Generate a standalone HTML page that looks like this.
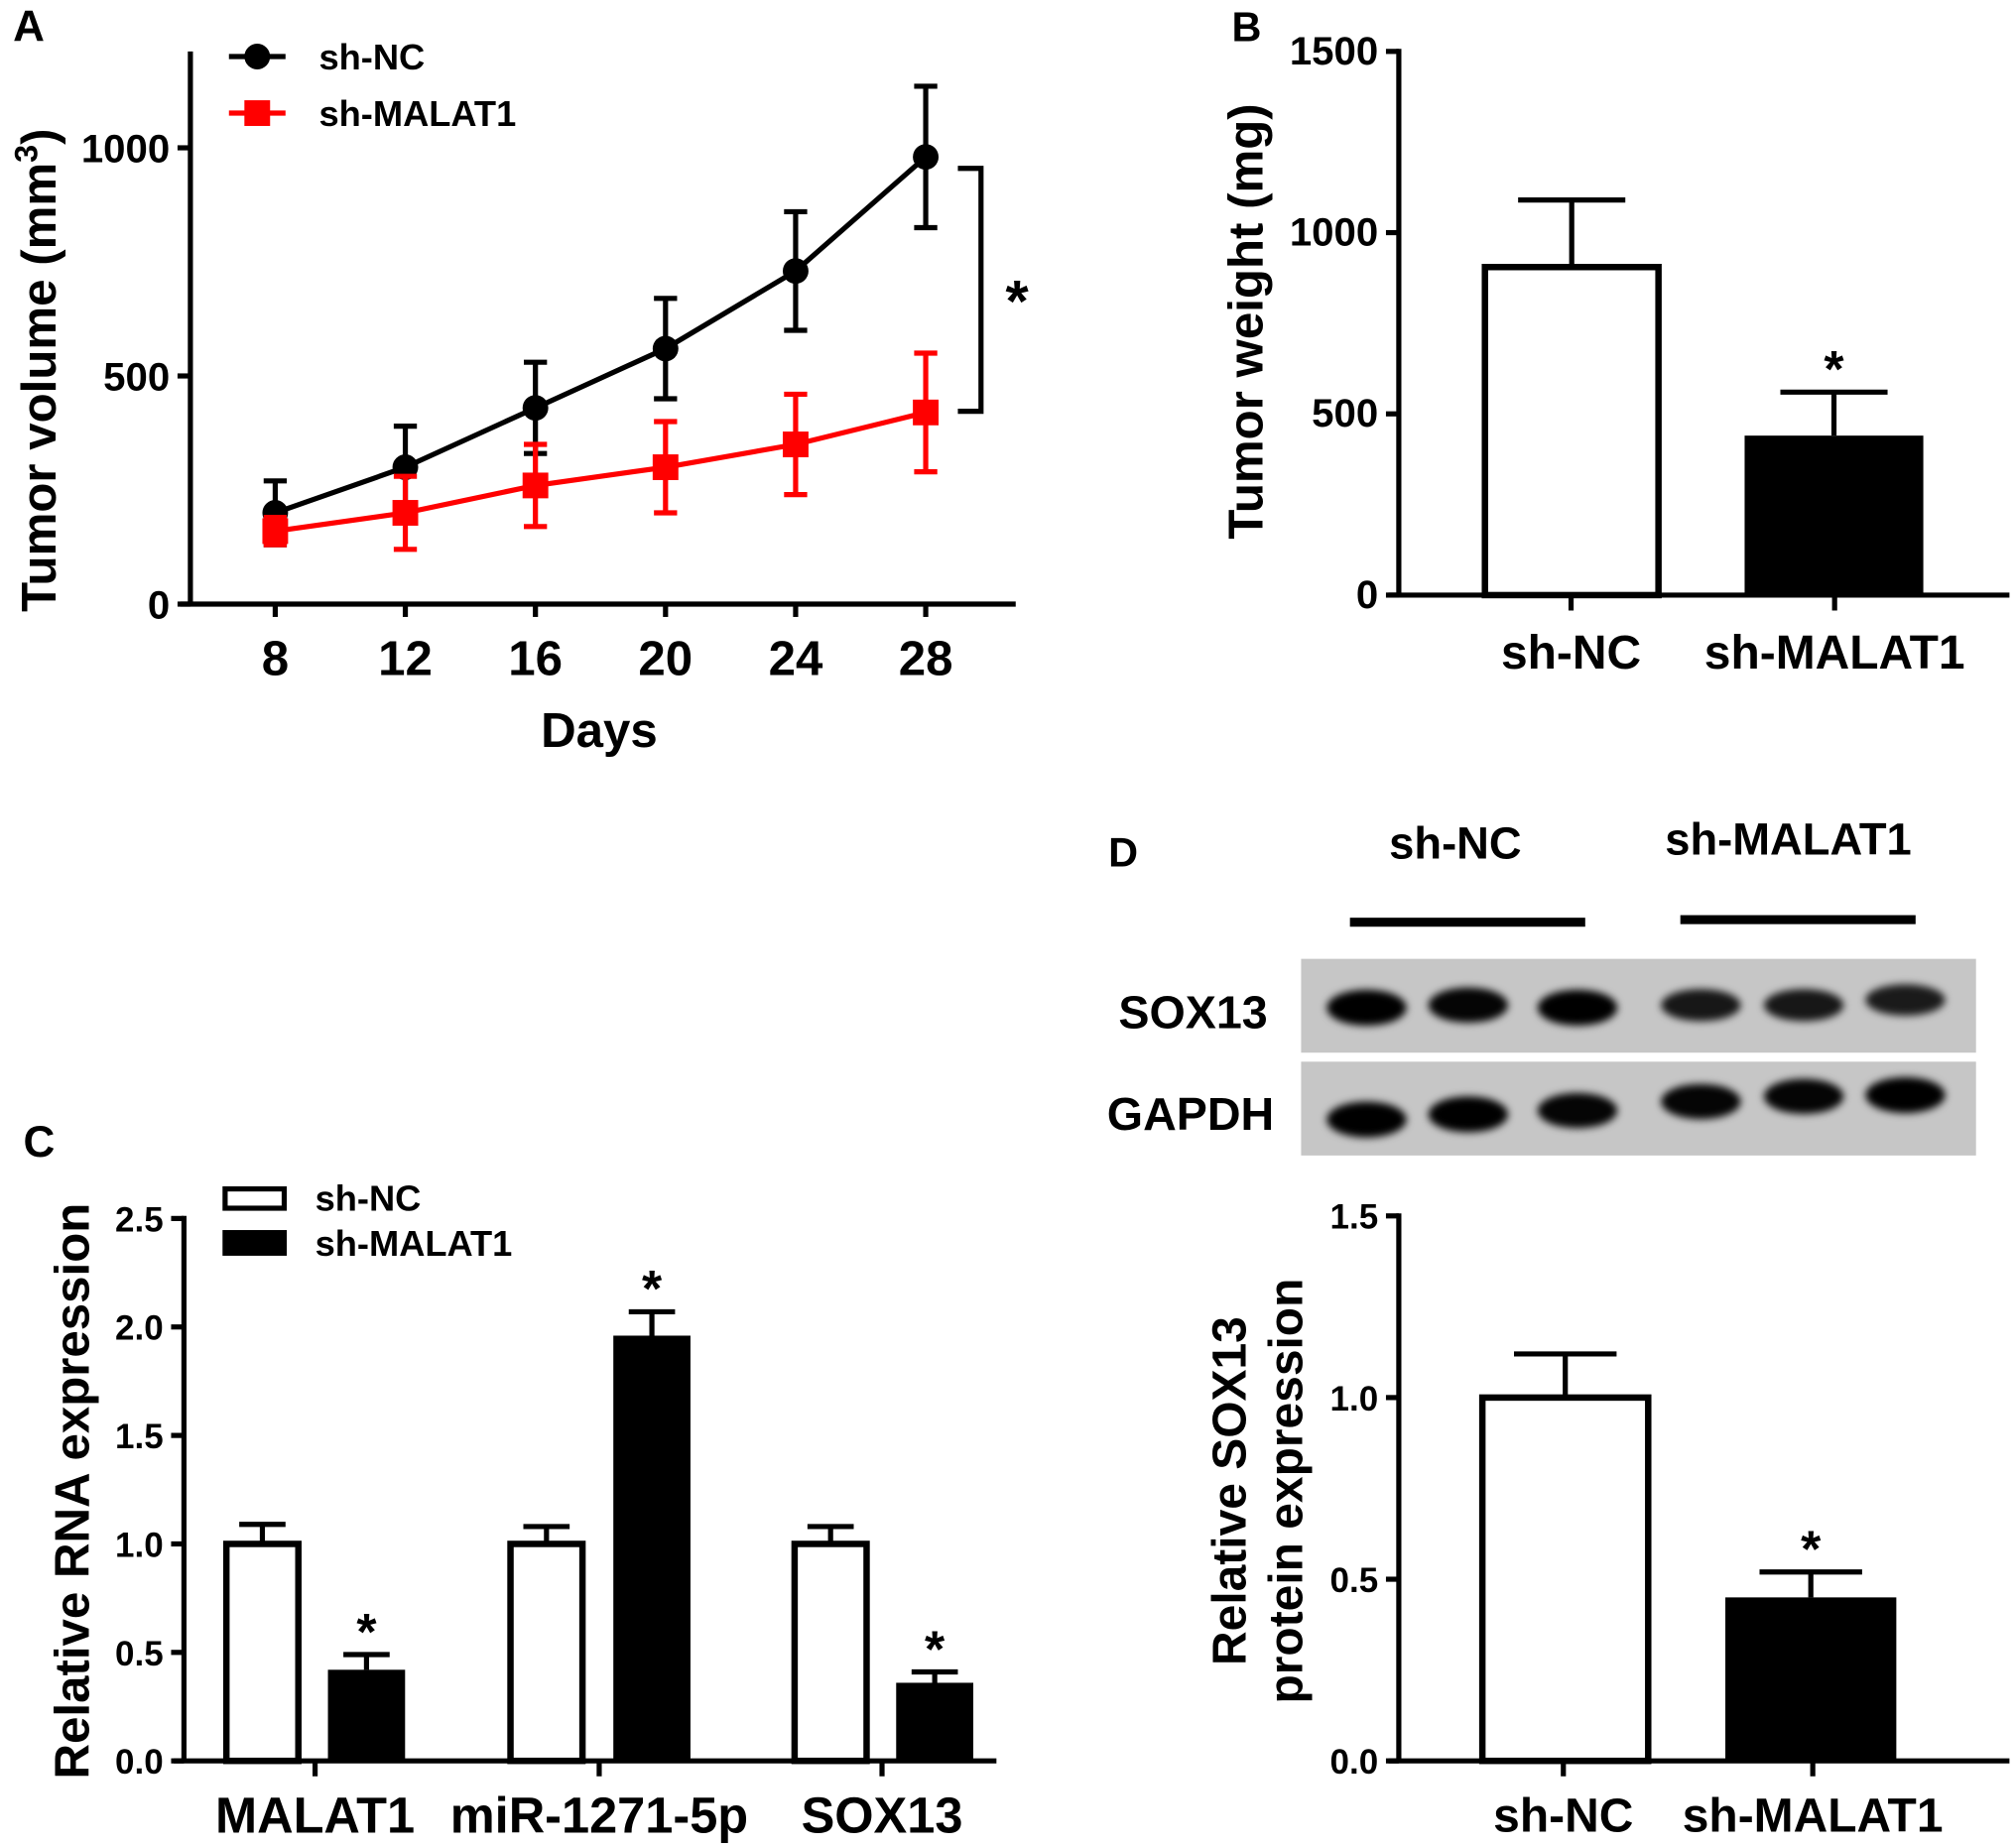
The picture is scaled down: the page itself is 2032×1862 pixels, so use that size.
<!DOCTYPE html>
<html><head><meta charset="utf-8"><style>
html,body{margin:0;padding:0;background:#fff;}
svg{display:block;}
text{font-family:"Liberation Sans",Arial,sans-serif;font-weight:bold;fill:#000;}
.n{font-family:"Liberation Sans Narrow","Liberation Sans",sans-serif;}
</style></head><body>
<svg id="fig" width="2032" height="1862" viewBox="0 0 1568 1437" xmlns="http://www.w3.org/2000/svg">
<g id="A"></g>
<g id="B"></g>
<g id="C"></g>
<g id="D"></g>
</svg>
<script>
// Panel A data
const daysA = [8,12,16,20,24,28];
const ncVol = [200,300,430,560,730,980];
const ncVolErr = [70,90,100,110,130,155];
const malVol = [160,200,260,300,350,420];
const malVolErr = [30,80,90,100,110,130];
const ticksA = [0,500,1000];
// Panel B data
const catsB = ["sh-NC","sh-MALAT1"];
const weightB = [905,440];
const weightErrB = [185,120];
const ticksB = [0,500,1000,1500];
// Panel C data
const catsC = ["MALAT1","miR-1271-5p","SOX13"];
const ncRNA = [1.0,1.0,1.0];
const ncRNAErr = [0.09,0.08,0.08];
const malRNA = [0.42,1.96,0.36];
const malRNAErr = [0.07,0.11,0.05];
const ticksC = ["0.0","0.5","1.0","1.5","2.0","2.5"];
// Panel D data
const catsD = ["sh-NC","sh-MALAT1"];
const protD = [1.0,0.45];
const protErrD = [0.12,0.07];
const ticksD = ["0.0","0.5","1.0","1.5"];
const sox13Band = [1,0.95,1,0.75,0.75,0.7];
const gapdhBand = [1,1,0.95,0.95,0.95,1];

const NS="http://www.w3.org/2000/svg";
function mk(parent,tag,attrs,txt){const e=document.createElementNS(NS,tag);for(const k in attrs)e.setAttribute(k,attrs[k]);if(txt!==undefined)e.textContent=txt;parent.appendChild(e);return e;}

// ---------- Panel A ----------
(function(){
const g=document.getElementById('A');
const X=d=>214+(d-8)*(720-214)/20;
const Y=v=>470-v*0.355;
let t=mk(g,'text',{x:10,y:32,'font-size':34},'A');

let ax=mk(g,'path',{d:`M148 40 V470 M140 470 H790`,stroke:'#000','stroke-width':4,fill:'none'});

ticksA.forEach(v=>{
 let l=mk(g,'line',{x1:138,x2:148,y1:Y(v),y2:Y(v),stroke:'#000','stroke-width':4});
 
 let tx=mk(g,'text',{x:132,y:Y(v)+11,'font-size':31,'text-anchor':'end',class:'n'},String(v));
 
});
daysA.forEach(d=>{
 let l=mk(g,'line',{x1:X(d),x2:X(d),y1:470,y2:480,stroke:'#000','stroke-width':4});
 
 let tx=mk(g,'text',{x:X(d),y:525,'font-size':38,'text-anchor':'middle',class:'n'},String(d));
 
});
t=mk(g,'text',{x:466,y:581,'font-size':38,'text-anchor':'middle'},'Days');

t=mk(g,'text',{transform:'translate(43,288) rotate(-90)','font-size':38,'text-anchor':'middle'});

t.innerHTML='Tumor volume (mm<tspan dy="-14" font-size="25">3</tspan><tspan dy="14">)</tspan>';
function series(vals,errs,color,shape,name){
 errs.forEach((e,i)=>{
  let p=mk(g,'path',{d:`M${X(daysA[i])} ${Y(vals[i]-e)} V${Y(vals[i]+e)} M${X(daysA[i])-9} ${Y(vals[i]+e)} h18 M${X(daysA[i])-9} ${Y(vals[i]-e)} h18`,stroke:color,'stroke-width':4,fill:'none'});
  
 });
 let pl=mk(g,'polyline',{points:vals.map((v,i)=>X(daysA[i])+','+Y(v)).join(' '),stroke:color,'stroke-width':4,fill:'none'});
 
 vals.forEach((v,i)=>{
  let m=shape==='c'?mk(g,'circle',{cx:X(daysA[i]),cy:Y(v),r:10,fill:color}):mk(g,'rect',{x:X(daysA[i])-10,y:Y(v)-10,width:20,height:20,fill:color});
  
 });
}
series(ncVol,ncVolErr,'#000','c','sh-nc');
series(malVol,malVolErr,'#f00','s','sh-malat1');
let br=mk(g,'path',{d:`M745 131 H763 V320 H745`,stroke:'#000','stroke-width':4,fill:'none'});

t=mk(g,'text',{x:791,y:250,'font-size':46,'text-anchor':'middle'},'*');

let le=mk(g,'g',{});
mk(le,'line',{x1:178,x2:222,y1:44,y2:44,stroke:'#000','stroke-width':4});mk(le,'circle',{cx:200,cy:44,r:10});
mk(le,'text',{x:248,y:54,'font-size':28,class:'n'},'sh-NC');
le=mk(g,'g',{});
mk(le,'line',{x1:178,x2:222,y1:88,y2:88,stroke:'#f00','stroke-width':4});mk(le,'rect',{x:190,y:78,width:20,height:20,fill:'#f00'});
mk(le,'text',{x:248,y:98,'font-size':28,class:'n'},'sh-MALAT1');
})();

function barChart(g,o){
 const Y=v=>o.y0-(v/o.ymax)*(o.y0-o.ytop);
 let ax=mk(g,'path',{d:`M${o.ax} ${o.ytop-2} V${o.y0} M${o.ax-8} ${o.y0} H${o.xend}`,stroke:'#000','stroke-width':4,fill:'none'});
 
 o.ticks.forEach(s=>{const v=parseFloat(s);
  let l=mk(g,'line',{x1:o.ax-10,x2:o.ax,y1:Y(v),y2:Y(v),stroke:'#000','stroke-width':4});
  
  let tx=mk(g,'text',{x:o.ax-16,y:Y(v)+10,'font-size':o.tfs,'text-anchor':'end',class:'n'},s);
  
 });
 return Y;
}
function bar(g,Y,x,w,v,e,filled,name,star,y0){
 let r=mk(g,'rect',{x:x+2,y:Y(v),width:w-4,height:y0-Y(v),fill:filled?'#000':'#fff',stroke:'#000','stroke-width':filled?0:5});
 if(filled){r.setAttribute('x',x);r.setAttribute('width',w);}
 
 const cx=x+w/2;
 let p=mk(g,'path',{d:`M${cx} ${Y(v)} V${Y(v+e)} M${cx-w*0.3} ${Y(v+e)} H${cx+w*0.3}`,stroke:'#000','stroke-width':4,fill:'none'});
 
 if(star){let t=mk(g,'text',{x:cx,y:Y(v+e)-4,'font-size':40,'text-anchor':'middle'},'*');
  }
}

// ---------- Panel B ----------
(function(){
const g=document.getElementById('B');
let t=mk(g,'text',{x:958,y:32,'font-size':32},'B');
const Y=barChart(g,{ax:1088,y0:463,ytop:40,ymax:1500,xend:1563,ticks:ticksB.map(String),tfs:31});
const xs=[1153,1357],w=139,cx=[1222,1427];
catsB.forEach((c,i)=>{
 bar(g,Y,xs[i],w,weightB[i],weightErrB[i],i===1,'bar-'+c.toLowerCase(),i===1,463);
 let l=mk(g,'line',{x1:cx[i],x2:cx[i],y1:463,y2:475,stroke:'#000','stroke-width':4});
 let tx=mk(g,'text',{x:cx[i],y:520,'font-size':37,'text-anchor':'middle'},c);
});
t=mk(g,'text',{transform:'translate(982,250) rotate(-90)','font-size':38,'text-anchor':'middle'},'Tumor weight (mg)');

})();

// ---------- Panel C ----------
(function(){
const g=document.getElementById('C');
let t=mk(g,'text',{x:18,y:900,'font-size':34},'C');
const Y=barChart(g,{ax:143,y0:1370,ytop:948,ymax:2.5,xend:775,ticks:ticksC,tfs:27});
const wx=[174,395,616],bx=[255,477,697],w=60,ctr=[245,466,686];
catsC.forEach((c,i)=>{
 bar(g,Y,wx[i],w,ncRNA[i],ncRNAErr[i],false,'bar-sh-nc-'+c.toLowerCase(),false,1370);
 bar(g,Y,bx[i],w,malRNA[i],malRNAErr[i],true,'bar-sh-malat1-'+c.toLowerCase(),true,1370);
 let l=mk(g,'line',{x1:ctr[i],x2:ctr[i],y1:1370,y2:1382,stroke:'#000','stroke-width':4});
 let tx=mk(g,'text',{x:ctr[i],y:1426,'font-size':39,'text-anchor':'middle',class:'n'},c);
});
t=mk(g,'text',{transform:'translate(69,1160) rotate(-90)','font-size':38,'text-anchor':'middle'},'Relative RNA expression');

let le=mk(g,'g',{});
mk(le,'rect',{x:175,y:925,width:46,height:15,fill:'#fff',stroke:'#000','stroke-width':4});
mk(le,'text',{x:245,y:942,'font-size':28,class:'n'},'sh-NC');
le=mk(g,'g',{});
mk(le,'rect',{x:173,y:957,width:50,height:20,fill:'#000'});
mk(le,'text',{x:245,y:977,'font-size':28,class:'n'},'sh-MALAT1');
})();

// ---------- Panel D ----------
(function(){
const g=document.getElementById('D');
let t=mk(g,'text',{x:862,y:674,'font-size':32},'D');
t=mk(g,'text',{x:1132,y:668,'font-size':35,'text-anchor':'middle',class:'n'},'sh-NC');
t=mk(g,'text',{x:1391,y:665,'font-size':35,'text-anchor':'middle',class:'n'},'sh-MALAT1');
let l=mk(g,'rect',{x:1050,y:714,width:183,height:7});
l=mk(g,'rect',{x:1307,y:712,width:183,height:7});
const defs=mk(g,'defs',{});const f=mk(defs,'filter',{id:'blur',x:'-20%',y:'-50%',width:'140%',height:'200%'});mk(f,'feGaussianBlur',{stdDeviation:3});
const bandX=[1063,1142,1227,1323,1403,1482];
const soxY=[784,782,784,782,782,778],gapY=[871,867,864,857,853,852];
[['sox13',746,sox13Band,soxY],['gapdh',826,gapdhBand,gapY]].forEach(([nm,y,vals,ys])=>{
 let b=mk(g,'rect',{x:1012,y:y,width:525,height:73,fill:'#c6c6c6'});
 vals.forEach((v,i)=>{let e=mk(g,'ellipse',{cx:bandX[i],cy:ys[i],rx:31,ry:8+6*v,fill:'#000','fill-opacity':0.55+0.45*v,filter:'url(#blur)'});
  });
});
t=mk(g,'text',{x:928,y:800,'font-size':36,'text-anchor':'middle',class:'n'},'SOX13');
t=mk(g,'text',{x:926,y:879,'font-size':36,'text-anchor':'middle',class:'n'},'GAPDH');
const Y=barChart(g,{ax:1088,y0:1370,ytop:946,ymax:1.5,xend:1563,ticks:ticksD,tfs:27});
const xs=[1151,1342],w=133,cx=[1216,1410];
catsD.forEach((c,i)=>{
 bar(g,Y,xs[i],w,protD[i],protErrD[i],i===1,'bar-'+c.toLowerCase(),i===1,1370);
 let tk=mk(g,'line',{x1:cx[i],x2:cx[i],y1:1370,y2:1382,stroke:'#000','stroke-width':4});
 let tx=mk(g,'text',{x:cx[i],y:1425,'font-size':37,'text-anchor':'middle'},c);
});
t=mk(g,'text',{transform:'translate(969,1160) rotate(-90)','font-size':37,'text-anchor':'middle'},'Relative SOX13');

t=mk(g,'text',{transform:'translate(1013,1160) rotate(-90)','font-size':37,'text-anchor':'middle'},'protein expression');

})();
</script>
</body></html>
